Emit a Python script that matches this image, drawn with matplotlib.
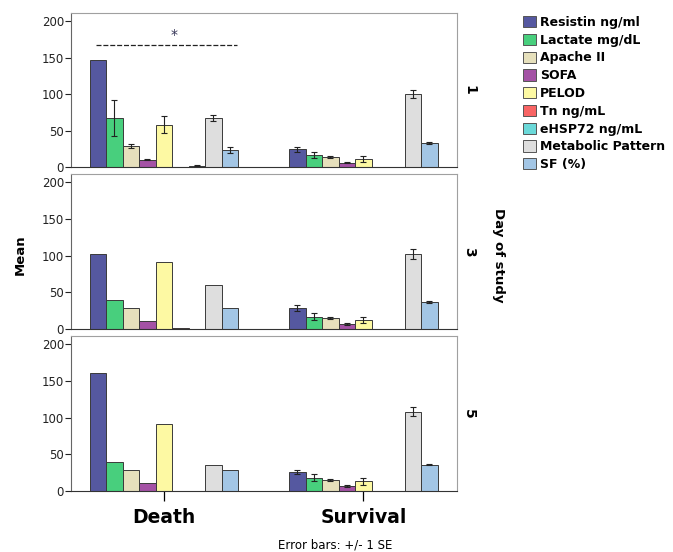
import numpy as np
import matplotlib
matplotlib.use("Agg")
import matplotlib.pyplot as plt
from matplotlib.patches import Patch

# categorias e series
measures = ["Resistin ng/ml", "Lactate mg/dL", "Apache II", "SOFA", "PELOD",
            "Tn ng/mL", "eHSP72 ng/mL", "Metabolic Pattern", "SF (%)"]
colors = ["#5558A0", "#48CF7D", "#E6E0BC", "#A452A5", "#FDF9A3",
          "#F86464", "#6BD9D9", "#DEDEDE", "#A3C6E5"]
groups = ["Death", "Survival"]
days = ["1", "3", "5"]

death_d1 = [146, 67, 29, 10, 58, 0.5, 2, 67, 23]
death_d1_se = [0, 25, 3, 1, 12, 0, 0.5, 4, 4]
surv_d1 = [24, 16, 14, 6, 11, 0.3, 0.5, 100, 33]
surv_d1_se = [4, 4, 1.5, 1, 3.5, 0, 0, 6, 1]

death_d3 = [102, 40, 29, 11, 91, 1, 0.5, 60, 28]
death_d3_se = [0, 0, 0, 0, 0, 0, 0, 0, 0]
surv_d3 = [28, 17, 15, 7, 12, 0.3, 0.3, 102, 37]
surv_d3_se = [4, 5, 1.5, 1, 4, 0, 0, 6.5, 1.5]

death_d5 = [161, 40, 29, 11, 91, 0, 0.5, 35, 28]
death_d5_se = [0, 0, 0, 0, 0, 0, 0, 0, 0]
surv_d5 = [26, 18, 14.5, 7, 13, 0.2, 0.3, 108, 36]
surv_d5_se = [3, 5, 1.5, 1, 4.5, 0, 0, 6.5, 1]

panels = [
    ([death_d1, surv_d1], [death_d1_se, surv_d1_se]),
    ([death_d3, surv_d3], [death_d3_se, surv_d3_se]),
    ([death_d5, surv_d5], [death_d5_se, surv_d5_se]),
]

W, H = 673, 552
fig = plt.figure(figsize=(W / 100, H / 100), dpi=100)

# posicoes dos paineis em pixels (topo, base)
rows_px = [(13, 167), (174, 329), (336, 491)]
left_px, right_px = 71, 457
bw = 0.0827

axes = []
for r, (top, bot) in enumerate(rows_px):
    ax = fig.add_axes([left_px / W, 1 - bot / H, (right_px - left_px) / W, (bot - top) / H])
    vals, ses = panels[r]
    for g in range(len(groups)):
        for i in range(len(measures)):
            x = g + (i - 4) * bw
            ax.bar(x, vals[g][i], width=bw, color=colors[i], edgecolor="#3a3a3a", linewidth=0.7)
            if ses[g][i] > 0:
                ax.errorbar(x, vals[g][i], yerr=ses[g][i], fmt="none", ecolor="#222222",
                            elinewidth=0.8, capsize=2, capthick=0.8)
    ax.set_xlim(-0.466, 1.469)
    ax.set_ylim(0, 211)
    ax.set_yticks([0, 50, 100, 150, 200])
    ax.tick_params(axis="y", labelsize=8.5, length=4, width=0.8, colors="#222222", pad=1)
    for s in ["top", "right"]:
        ax.spines[s].set_color("#a0a0a0")
    ax.spines["left"].set_color("#666666")
    ax.spines["bottom"].set_color("#333333")
    if r < 2:
        ax.set_xticks([])
    else:
        ax.set_xticks([0, 1])
        ax.set_xticklabels(groups, fontsize=13.5, fontweight="bold")
        ax.tick_params(axis="x", length=7, width=0.9, pad=5)
    ax.text(1.013, 0.5, days[r], transform=ax.transAxes, rotation=-90,
            ha="left", va="center", fontsize=10, fontweight="bold")
    axes.append(ax)

# linha de significancia no dia 1
axes[0].plot([-0.34, 0.366], [167, 167], color="#222222", lw=0.9, ls=(0, (4, 1.5)))
axes[0].text(0.05, 181, "*", ha="center", va="center", fontsize=10, color="#333355")

fig.text(20 / W, 1 - 255 / H, "Mean", rotation=90, ha="center", va="center",
         fontsize=9.5, fontweight="bold")
fig.text(498 / W, 1 - 255 / H, "Day of study", rotation=-90, ha="center", va="center",
         fontsize=9.5, fontweight="bold")
fig.text(335 / W, 1 - 545 / H, "Error bars: +/- 1 SE", ha="center", va="center",
         fontsize=8.5)

handles = [Patch(facecolor=c, edgecolor="#555555", linewidth=0.7) for c in colors]
fig.legend(handles, measures, loc="upper left", bbox_to_anchor=(523 / W, 1 - 16 / H),
           frameon=False, prop={"size": 9, "weight": "bold"}, handlelength=1.0,
           handleheight=1.0, handletextpad=0.35, labelspacing=0.38, borderpad=0,
           borderaxespad=0)

fig.savefig("out.png", dpi=100)
